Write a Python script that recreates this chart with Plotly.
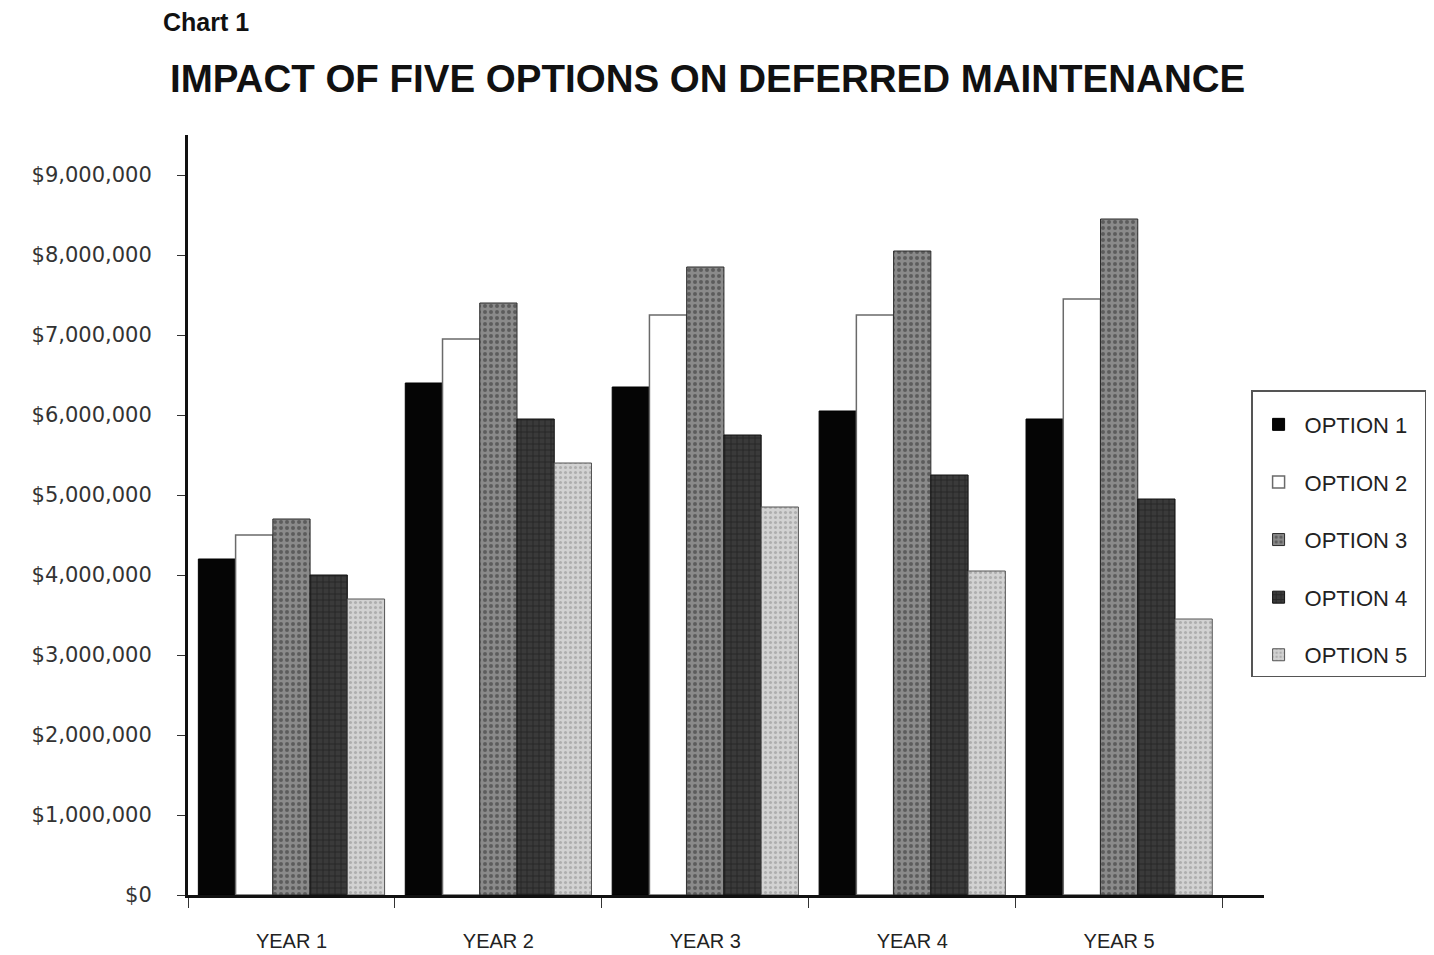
import plotly.graph_objects as go

years = ["YEAR 1", "YEAR 2", "YEAR 3", "YEAR 4", "YEAR 5"]
option_names = ["OPTION 1", "OPTION 2", "OPTION 3", "OPTION 4", "OPTION 5"]
option1 = [4200000, 6400000, 6350000, 6050000, 5950000]
option2 = [4500000, 6950000, 7250000, 7250000, 7450000]
option3 = [4700000, 7400000, 7850000, 8050000, 8450000]
option4 = [4000000, 5950000, 5750000, 5250000, 4950000]
option5 = [3700000, 5400000, 4850000, 4050000, 3450000]
y_ticks = [0, 1000000, 2000000, 3000000, 4000000, 5000000, 6000000, 7000000, 8000000, 9000000]
y_tick_text = ["$0", "$1,000,000", "$2,000,000", "$3,000,000", "$4,000,000",
               "$5,000,000", "$6,000,000", "$7,000,000", "$8,000,000", "$9,000,000"]

series = [option1, option2, option3, option4, option5]
styles = [
    dict(color="#050505", line=dict(color="#000000", width=1)),
    dict(color="#ffffff", line=dict(color="#6a6a6a", width=1.5)),
    dict(color="#7a7a7a", line=dict(color="#2a2a2a", width=1),
         pattern=dict(shape=".", fgcolor="#2e2e2e", bgcolor="#8a8a8a", size=6, solidity=0.35)),
    dict(color="#2c2c2c", line=dict(color="#111111", width=1),
         pattern=dict(shape="+", fgcolor="#111111", bgcolor="#3a3a3a", size=6, solidity=0.3)),
    dict(color="#c4c4c4", line=dict(color="#555555", width=1),
         pattern=dict(shape=".", fgcolor="#8a8a8a", bgcolor="#d2d2d2", size=5, solidity=0.3)),
]

fig = go.Figure()
for i, (name, vals) in enumerate(zip(option_names, series)):
    fig.add_trace(go.Bar(x=years, y=vals, name=name + "\u00a0\u00a0", marker=styles[i],
                         legendgroup=name))

fig.update_layout(
    width=1434, height=955,
    margin=dict(l=188, r=170, t=135, b=60, autoexpand=False),
    paper_bgcolor="white", plot_bgcolor="white",
    barmode="group", bargap=0.1, bargroupgap=0,
    showlegend=True,
    legend=dict(x=0.988, y=0.664, xanchor="left", yanchor="top",
                bordercolor="#555555", borderwidth=1.5, bgcolor="white",
                font=dict(family="Liberation Sans, Arial", size=22, color="#222222"),
                title=dict(text=" ", font=dict(size=9)),
                tracegroupgap=26, itemwidth=42),
    font=dict(family="Liberation Sans, Arial", color="#222222"),
    xaxis=dict(range=[-0.5, 4.7], showline=True, linecolor="#111111", linewidth=3,
               ticks="outside", ticklen=10, tickcolor="#333333", tickwidth=1,
               tickson="boundaries", showgrid=False, zeroline=False, automargin=False,
               tickfont=dict(family="Liberation Sans, Arial", size=20, color="#222222"),
               ticklabelstandoff=26),
    yaxis=dict(range=[0, 9500000], showline=True, linecolor="#111111", linewidth=3,
               tickvals=y_ticks, ticktext=y_tick_text, automargin=False,
               ticks="outside", ticklen=8, tickcolor="#333333", tickwidth=1,
               showgrid=False, zeroline=False,
               tickfont=dict(family="DejaVu Sans", size=21, color="#333333"),
               ticklabelstandoff=21),
    annotations=[
        dict(text="<b>Chart 1</b>", xref="paper", yref="paper", x=-0.025, y=1.149,
             xanchor="left", yanchor="middle", showarrow=False,
             font=dict(family="Liberation Sans, Arial", size=25, color="#111111")),
        dict(text="<b>IMPACT OF FIVE OPTIONS ON DEFERRED MAINTENANCE</b>", xref="paper", yref="paper",
             x=-0.019, y=1.075, xanchor="left", yanchor="middle", showarrow=False,
             font=dict(family="Liberation Sans, Arial", size=38.5, color="#111111")),
    ],
)

fig.write_html("out.html")
